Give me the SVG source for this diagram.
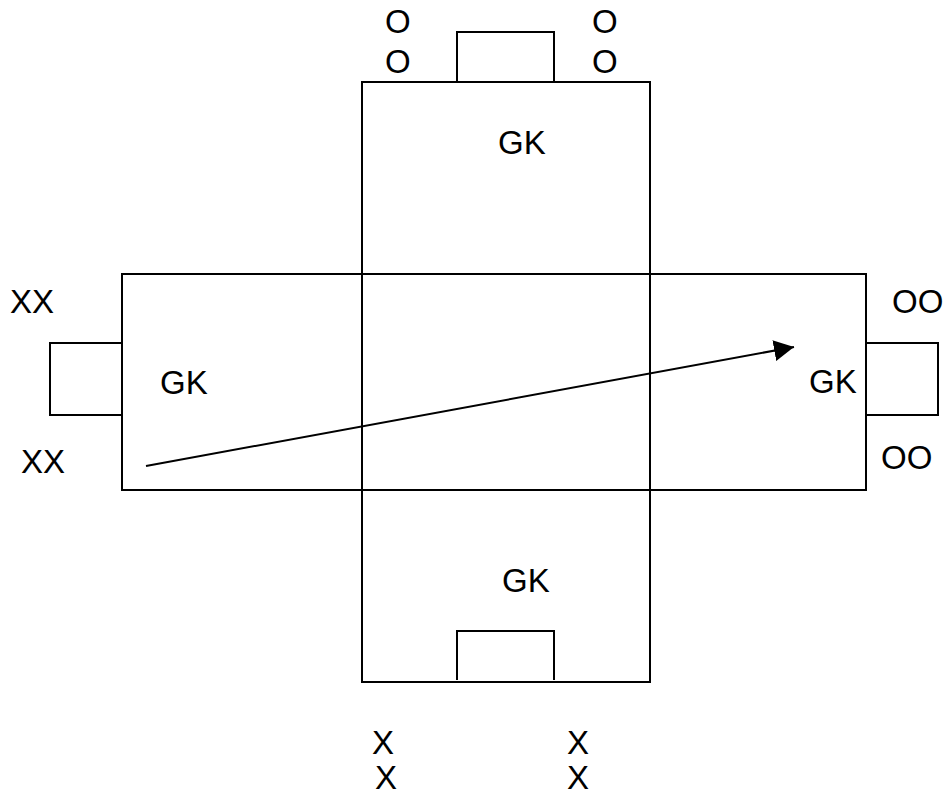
<svg xmlns="http://www.w3.org/2000/svg" width="945" height="796" viewBox="0 0 945 796">
<style>
.s{fill:none;stroke:#000;stroke-width:2}
.t{font-family:"Liberation Sans",Arial,sans-serif;font-size:33px;fill:#000}
</style>
<defs>
<marker id="ah" markerUnits="userSpaceOnUse" markerWidth="22" markerHeight="22" refX="20" refY="10.5" orient="auto">
<path d="M0,0 L20,10.5 L0,21 Z" fill="#000"/>
</marker>
</defs>
<rect width="945" height="796" fill="#fff"/>
<g id="field">
<rect class="s" x="362" y="82" width="288" height="192"/>
<rect class="s" x="122" y="274" width="744" height="216"/>
<line class="s" x1="362" y1="274" x2="362" y2="490"/>
<line class="s" x1="650" y1="274" x2="650" y2="490"/>
<rect class="s" x="362" y="490" width="288" height="192"/>
</g>
<g id="goal-top"><path class="s" d="M457,81 V32 H554 V81"/></g>
<g id="goal-bottom"><path class="s" d="M457,680 V631 H554 V680"/></g>
<g id="goal-left"><path class="s" d="M122,343 H50 V415 H122"/></g>
<g id="goal-right"><path class="s" d="M866,343 H938 V415 H866"/></g>
<g id="labels">
<text class="t" x="385" y="33">O</text>
<text class="t" x="385" y="73">O</text>
<text class="t" x="592" y="33">O</text>
<text class="t" x="592" y="73">O</text>
<text class="t" x="498" y="154">GK</text>
<text class="t" x="160" y="394">GK</text>
<text class="t" x="809" y="393">GK</text>
<text class="t" x="502" y="592">GK</text>
<text class="t" x="10" y="313">XX</text>
<text class="t" x="21" y="473">XX</text>
<text class="t" x="892" y="313">OO</text>
<text class="t" x="881" y="469">OO</text>
<text class="t" x="372" y="754">X</text>
<text class="t" x="375" y="789">X</text>
<text class="t" x="567" y="754">X</text>
<text class="t" x="567" y="789">X</text>
</g>
<g id="connectors">
<line x1="146" y1="466" x2="794" y2="347" stroke="#000" stroke-width="2" marker-end="url(#ah)"/>
</g>
</svg>
